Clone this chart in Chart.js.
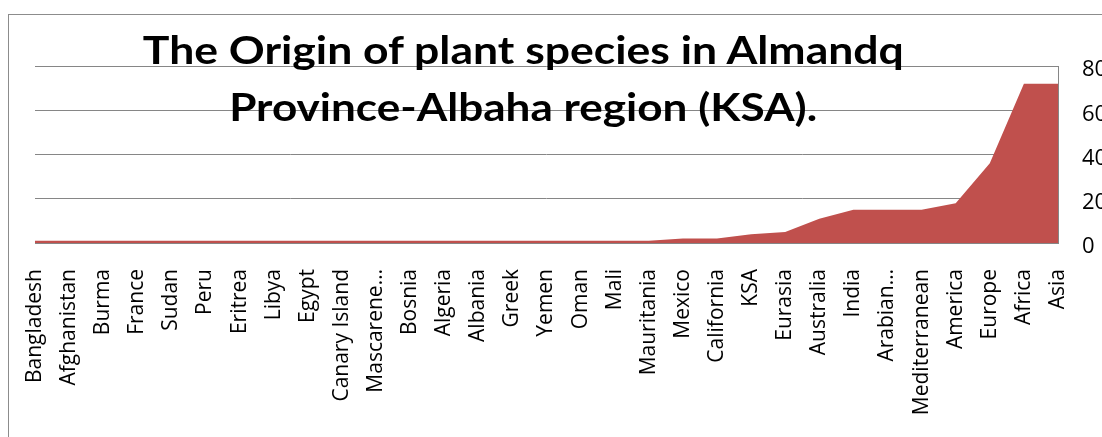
<!DOCTYPE html>
<html>
<head>
<meta charset="utf-8">
<script src="https://cdn.jsdelivr.net/npm/chart.js@4"></script>
<style>
  html, body { margin: 0; padding: 0; overflow: hidden; background: #fff; }
  #frame { position: absolute; left: 8px; top: 14px; width: 1200px; height: 500px; border: 1px solid #8c8c8c; }
  #box { position: absolute; left: 0; top: 0; width: 1118px; height: 437px; }
  #title { position: absolute; left: 0; top: 21px; width: 1046px; text-align: center;
           font-family: Lato, "Open Sans", sans-serif; font-weight: bold; font-size: 39px;
           line-height: 57px; color: #000; white-space: nowrap; }
  #title span { display: inline-block; transform-origin: center; }
</style>
</head>
<body>
<div id="frame"></div>
<div id="box"><canvas id="myChart" width="1118" height="437"></canvas></div>
<div id="title"><span>The Origin of plant species in Almandq</span><br><span>Province-Albaha region (KSA).</span></div>
<script>
const regions = ['Bangladesh', 'Afghanistan', 'Burma', 'France', 'Sudan', 'Peru', 'Eritrea', 'Libya',
  'Egypt', 'Canary Island', 'Mascarene…', 'Bosnia', 'Algeria', 'Albania', 'Greek', 'Yemen', 'Oman',
  'Mali', 'Mauritania', 'Mexico', 'California', 'KSA', 'Eurasia', 'Australia', 'India', 'Arabian…',
  'Mediterranean', 'America', 'Europe', 'Africa', 'Asia'];
const species = [1, 1, 1, 1, 1, 1, 1, 1,
  1, 1, 1, 1, 1, 1, 1, 1, 1,
  1, 1, 2, 2, 4, 5, 11, 15, 15,
  15, 18, 36, 72, 72];
const yTicks = [0, 20, 40, 60, 80];

window.onload = function () {
  const ctx = document.getElementById('myChart').getContext('2d');
  const myChart = new Chart(ctx, {
    type: 'line',
    data: {
      labels: regions,
      datasets: [{
        label: 'Species',
        data: species,
        fill: 'origin',
        backgroundColor: '#C0504D',
        borderColor: '#C0504D',
        borderWidth: 0,
        pointRadius: 0,
        tension: 0
      }]
    },
    options: {
      responsive: false,
      animation: false,
      layout: { padding: { left: 35, top: 66, right: 0, bottom: 0 } },
      plugins: { legend: { display: false }, tooltip: { enabled: false } },
      scales: {
        x: {
          offset: false,
          grid: { display: false },
          border: { display: true, color: '#868686' },
          ticks: {
            autoSkip: false, minRotation: 90, maxRotation: 90, padding: 18,
            color: '#000', font: { family: 'Open Sans', size: 21 }
          },
          afterFit: function (scale) { scale.height = 194; }
        },
        y: {
          position: 'right',
          min: 0, max: 80,
          afterBuildTicks: function (scale) { scale.ticks = yTicks.map(v => ({ value: v })); },
          grid: { color: '#868686', lineWidth: 1, drawTicks: false },
          border: { display: true, color: '#868686' },
          ticks: {
            padding: 24, labelOffset: 4,
            color: '#000', font: { family: 'Open Sans', size: 22 }
          },
          afterFit: function (scale) { scale.width = 60; }
        }
      }
    }
  });

  // squeeze the title lines to the widths seen in the picture
  const spans = document.querySelectorAll('#title span');
  const wanted = [761, 588];
  spans.forEach((s, i) => {
    const w = s.getBoundingClientRect().width;
    s.style.transform = 'scaleX(' + (wanted[i] / w) + ')';
  });
};
</script>
</body>
</html>
